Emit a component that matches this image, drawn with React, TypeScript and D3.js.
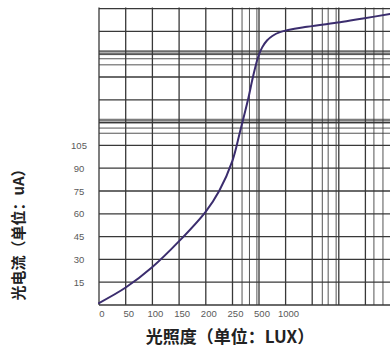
import React from "react";
import * as d3 from "d3";

// Illuminance (LUX) vs photocurrent (uA)
const luxValues = [0, 50, 100, 150, 200, 225, 250, 321, 396, 443, 491, 560, 650, 750, 895, 1402, 2023, 2455, 2962];
const currentValues = [1.3, 11.5, 25, 42, 61.5, 75, 95, 114, 135, 150, 163, 169.5, 174, 177, 179.5, 183, 186, 188.5, 191.4];

// Axis tick labels
const xTickLabels = [0, 50, 100, 150, 200, 250, 500, 1000];
const yTickLabels = [15, 30, 45, 60, 75, 90, 105];

// Grid (printed graph paper)
const xMajorGrid = [0, 50, 100, 150, 200, 250, 500, 1000, 1500, 2000, 2500, 3000];
const xMinorGrid = [340, 410, 480, 1690, 1800, 1950, 2660, 2830];
const yMajorGrid = [0, 15, 30, 45, 60, 75, 90, 105, 120, 135, 150, 165, 180, 195];
const yMinorGrid = [113, 116.4, 121.7, 158, 162, 167];
const yBands = [[120, 122], [165, 167]];

const xTitle = "光照度（单位：LUX）";
const yTitle = "光电流（单位：uA）";

export default function App() {
  const W = 390;
  const H = 349;
  const left = 99;
  const right = 392;
  const top = 8.6;
  const bottom = 305;

  const x = d3
    .scaleLinear()
    .domain([0, 250, 500, 1000])
    .range([left, 232.5, 259, 285.6]); // extrapolates beyond 1000
  const y = d3.scaleLinear().domain([0, 195]).range([bottom, top]);

  const line = d3
    .line<number>()
    .x((_, i) => x(luxValues[i]))
    .y((d) => y(d))
    .curve(d3.curveCatmullRom.alpha(0.5));

  const gridColor = "#383838";
  const labelColor = "#5a5a5a";

  return (
    <svg
      width={W}
      height={H}
      style={{ position: "absolute", left: 0, top: 0, background: "#fff" }}
    >
      <rect x={0} y={0} width={W} height={H} fill="#fff" />
      {yBands.map((b, i) => (
        <rect
          key={"band" + i}
          x={left}
          width={right - left}
          y={y(b[1]) - 1}
          height={y(b[0]) - y(b[1]) + 2}
          fill="#9a9a9a"
          opacity={0.8}
        />
      ))}
      {yMajorGrid.map((v) => (
        <line
          key={"ym" + v}
          x1={left}
          x2={right}
          y1={y(v)}
          y2={y(v)}
          stroke={gridColor}
          strokeWidth={1.3}
        />
      ))}
      {yMinorGrid.map((v) => (
        <line
          key={"yn" + v}
          x1={left}
          x2={right}
          y1={y(v)}
          y2={y(v)}
          stroke={gridColor}
          strokeWidth={1}
          opacity={0.85}
        />
      ))}
      {xMajorGrid.map((v) => (
        <line
          key={"xm" + v}
          x1={x(v)}
          x2={x(v)}
          y1={top - 1}
          y2={bottom}
          stroke={gridColor}
          strokeWidth={1.3}
        />
      ))}
      {xMinorGrid.map((v) => (
        <line
          key={"xn" + v}
          x1={x(v)}
          x2={x(v)}
          y1={top - 1}
          y2={bottom}
          stroke={gridColor}
          strokeWidth={1}
          opacity={0.85}
        />
      ))}
      <path
        d={line(currentValues) || ""}
        fill="none"
        stroke="#3b2d6e"
        strokeWidth={2}
        strokeLinecap="round"
      />
      {xTickLabels.map((v) => (
        <text
          key={"xt" + v}
          x={x(v) + 3}
          y={317}
          textAnchor="middle"
          fontFamily="'Liberation Sans', sans-serif"
          fontSize={9.5}
          fill={labelColor}
        >
          {v}
        </text>
      ))}
      {yTickLabels.map((v) => (
        <text
          key={"yt" + v}
          x={79}
          y={y(v) + 3.5}
          textAnchor="middle"
          fontFamily="'Liberation Sans', sans-serif"
          fontSize={9.5}
          fill={labelColor}
        >
          {v}
        </text>
      ))}
      <text
        x={230}
        y={343}
        textAnchor="middle"
        fontFamily="'Noto Sans CJK SC', sans-serif"
        fontWeight={700}
        fontSize={17}
        fill="#222"
      >
        {xTitle}
      </text>
      <text
        transform={`translate(24, 231) rotate(-90)`}
        textAnchor="middle"
        fontFamily="'Noto Sans CJK SC', sans-serif"
        fontWeight={700}
        fontSize={15}
        fill="#222"
      >
        {yTitle}
      </text>
    </svg>
  );
}
